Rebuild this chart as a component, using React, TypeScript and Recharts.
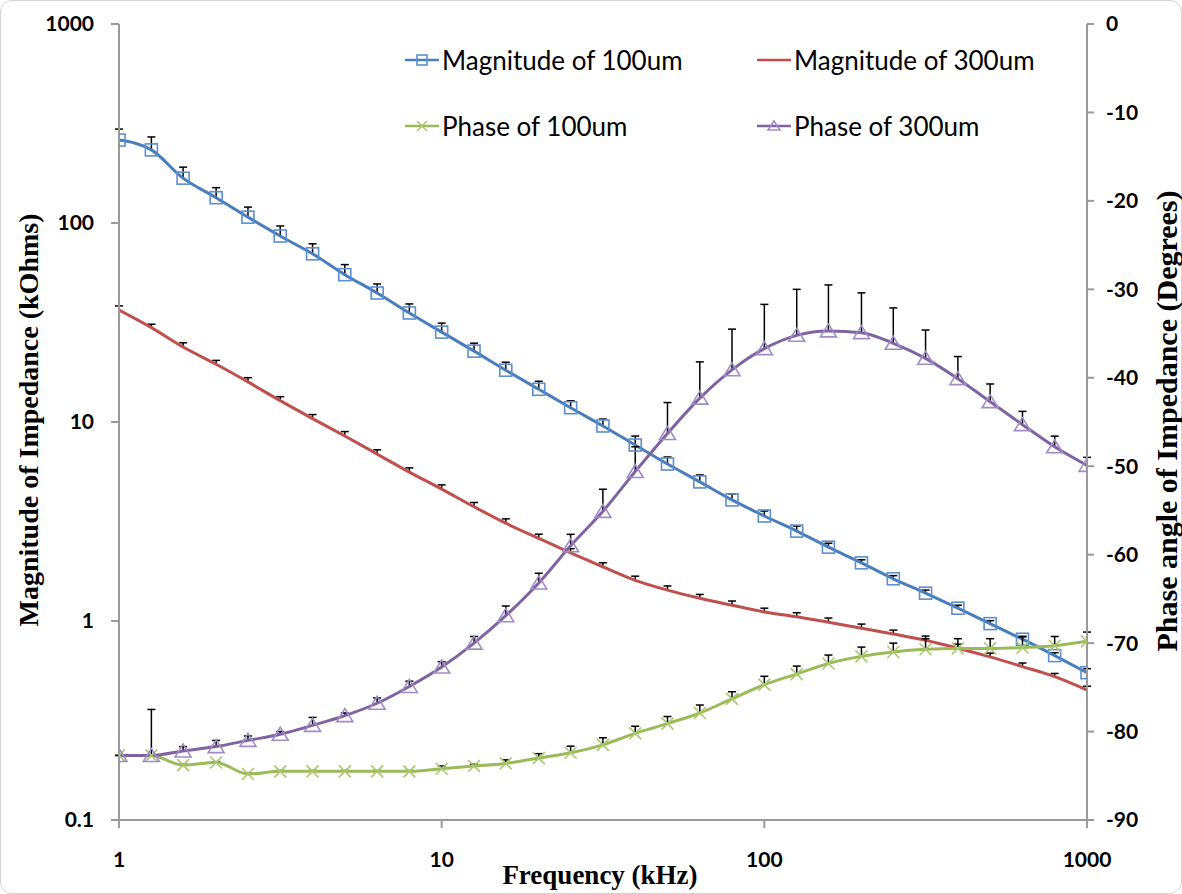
import React from "react"
import {
  LineChart,
  Line,
  XAxis,
  YAxis,
  ErrorBar,
  Legend,
} from "recharts"

// frequency points (kHz), 10 per decade
const FREQ = [
  1, 1.26, 1.58, 2, 2.51, 3.16, 3.98, 5.01, 6.31, 7.94,
  10, 12.6, 15.8, 20, 25.1, 31.6, 39.8, 50.1, 63.1, 79.4,
  100, 126, 158, 200, 251, 316, 398, 501, 631, 794, 1000,
]

// magnitude (kOhms)
const MAG_100 = [
  261, 233, 168, 134, 107, 86, 70, 55, 44.5, 35.3,
  28.3, 22.7, 18.2, 14.6, 11.8, 9.55, 7.66, 6.15, 5.0, 4.06,
  3.37, 2.83, 2.35, 1.96, 1.63, 1.38, 1.16, 0.97, 0.81, 0.67, 0.55,
]
const MAG_100_ERR = [
  35.5, 37.7, 22.8, 16.5, 13.2, 10.6, 8.6, 6.8, 4.9, 3.9,
  3.1, 2.2, 1.77, 1.42, 0.99, 0.8, 0.84, 0.52, 0.42, 0.29,
  0.2, 0.17, 0.11, 0.07, 0.06, 0.05, 0.04, 0.034, 0.028, 0.023, 0.026,
]
const MAG_300 = [
  36.5, 29.8, 23.8, 19.5, 15.9, 12.8, 10.4, 8.5, 6.9, 5.6,
  4.6, 3.75, 3.1, 2.6, 2.2, 1.87, 1.6, 1.43, 1.3, 1.2,
  1.11, 1.05, 0.985, 0.92, 0.86, 0.8, 0.73, 0.66, 0.59, 0.525, 0.45,
]
const MAG_300_ERR = [
  1.8, 1.2, 1.2, 0.9, 0.8, 0.6, 0.5, 0.45, 0.35, 0.28,
  0.23, 0.19, 0.16, 0.13, 0.11, 0.09, 0.08, 0.07, 0.06, 0.06,
  0.05, 0.05, 0.05, 0.045, 0.04, 0.04, 0.035, 0.03, 0.025, 0.02, 0.02,
]

// phase (degrees)
const PH_100 = [
  -82.7, -82.7, -83.8, -83.5, -84.8, -84.5, -84.5, -84.5, -84.5, -84.5,
  -84.2, -83.9, -83.6, -83.0, -82.4, -81.5, -80.2, -79.1, -77.9, -76.3,
  -74.7, -73.5, -72.3, -71.5, -71.0, -70.7, -70.6, -70.6, -70.5, -70.3, -69.8,
]
const PH_100_ERR = [
  0, 0, 0.1, 0.1, 0.1, 0.1, 0.1, 0.1, 0.1, 0.1,
  0.3, 0.2, 0.4, 0.5, 0.75, 0.8, 0.8, 0.8, 0.9, 0.8,
  0.95, 0.9, 0.95, 1.05, 1.0, 1.2, 1.1, 1.1, 1.2, 1.05, 1.05,
]
const PH_300 = [
  -82.7, -82.7, -82.2, -81.7, -81.0, -80.3, -79.3, -78.2, -76.8, -74.9,
  -72.7, -70.0, -66.9, -63.2, -59.0, -55.1, -50.6, -46.3, -42.3, -39.1,
  -36.7, -35.2, -34.7, -34.9, -36.1, -37.8, -40.1, -42.7, -45.3, -47.8, -49.9,
]
const PH_300_ERR = [
  0, 5.2, 0.5, 0.7, 0.5, 0.3, 0.9, 0.3, 0.6, 0.6,
  0.6, 0.75, 1.1, 1.1, 1.3, 2.5, 2.8, 3.5, 4.1, 4.6,
  5.0, 5.2, 5.2, 4.5, 4.0, 3.2, 2.5, 2.0, 1.5, 1.2, 0.9,
]

const X_TICKS = [1, 10, 100, 1000]
const MAG_TICKS = [0.1, 1, 10, 100, 1000]
const PHASE_TICKS = [-90, -80, -70, -60, -50, -40, -30, -20, -10, 0]

const data = FREQ.map((f, i) => ({
  freq: f,
  mag100: MAG_100[i],
  mag100Err: [0, MAG_100_ERR[i]],
  mag300: MAG_300[i],
  mag300Err: [0, MAG_300_ERR[i]],
  ph100: PH_100[i],
  ph100Err: [0, PH_100_ERR[i]],
  ph300: PH_300[i],
  ph300Err: [0, PH_300_ERR[i]],
}))

const BLUE = "#4a7ebb"
const RED = "#c0504d"
const GREEN = "#9bbb59"
const PURPLE = "#8064a2"

const tickStyle = { fill: "#000", fontSize: 21, fontWeight: 700, fontFamily: "Lato" }
const titleFont = "'Liberation Serif', 'Times New Roman', serif"
const axisColor = "#9a9a9a"

function marker(kind: string, cx: number, cy: number, s: number, key?: any) {
  if (kind === "square") {
    return (
      <rect key={key} x={cx - s} y={cy - s} width={s * 2} height={s * 2}
        fill="none" stroke="#5b8fd0" strokeWidth={1.6} />
    )
  }
  if (kind === "x") {
    return (
      <g key={key} stroke="#a9c96f" strokeWidth={1.6}>
        <line x1={cx - s} y1={cy - s} x2={cx + s} y2={cy + s} />
        <line x1={cx - s} y1={cy + s} x2={cx + s} y2={cy - s} />
      </g>
    )
  }
  if (kind === "triangle") {
    return (
      <polygon key={key}
        points={`${cx},${cy - s} ${cx - s - 1},${cy + s - 1} ${cx + s + 1},${cy + s - 1}`}
        fill="none" stroke="#a08cc6" strokeWidth={1.6} />
    )
  }
  return <g key={key} />
}

const MARKERS: Record<string, string> = {
  mag100: "square",
  mag300: "none",
  ph100: "x",
  ph300: "triangle",
}

function renderLegend(props: any) {
  const { payload } = props
  return (
    <div style={{ display: "grid", gridTemplateColumns: "352px 345px" }}>
      {payload.map((entry: any) => (
        <div key={entry.value} style={{ display: "flex", alignItems: "center", height: 66 }}>
          <svg width={34} height={20} style={{ marginRight: 3 }}>
            <line x1={0} y1={10} x2={34} y2={10} stroke={entry.color} strokeWidth={2.5} />
            {marker(MARKERS[entry.dataKey], 17, 10, 5)}
          </svg>
          <span style={{ fontFamily: "Lato", fontSize: 26, color: "#000" }}>{entry.value}</span>
        </div>
      ))}
    </div>
  )
}

export default function App() {
  return (
    <div style={{
      position: "absolute", left: 0, top: 0, width: 1182, height: 894,
      background: "#fff", border: "1px solid #d4d4d4", borderRadius: 12, boxSizing: "border-box",
    }}>
      <style>{`.recharts-errorBar line:nth-of-type(3){display:none}`}</style>
      <div style={{ position: "absolute", left: -1, top: -1 }}>
        <LineChart width={1182} height={894} data={data}
          margin={{ top: 24, right: 40, bottom: 34, left: 40 }}>
          <XAxis dataKey="freq" type="number" scale="log" domain={[1, 1000]} ticks={X_TICKS}
            allowDataOverflow stroke={axisColor} strokeWidth={2} tickSize={8} tickMargin={24}
            tick={tickStyle} height={40}
            label={{
              content: () => (
                <text x={600} y={884} textAnchor="middle" fontFamily={titleFont}
                  fontWeight={700} fontSize={27} fill="#000">Frequency (kHz)</text>
              ),
            }} />
          <YAxis yAxisId="mag" scale="log" domain={[0.1, 1000]} ticks={MAG_TICKS}
            allowDataOverflow stroke={axisColor} strokeWidth={2} tickSize={8} tickMargin={17}
            tick={tickStyle} width={79}
            label={{
              content: () => (
                <text x={38} y={420} transform="rotate(-90, 38, 420)" textAnchor="middle"
                  fontFamily={titleFont} fontWeight={700} fontSize={28} fill="#000">
                  Magnitude of Impedance (kOhms)
                </text>
              ),
            }} />
          <YAxis yAxisId="phase" orientation="right" domain={[-90, 0]} ticks={PHASE_TICKS}
            stroke={axisColor} strokeWidth={2} tickSize={7} tickMargin={12}
            tick={tickStyle} width={55}
            label={{
              content: () => (
                <text x={1177} y={421} transform="rotate(-90, 1177, 421)" textAnchor="middle"
                  fontFamily={titleFont} fontWeight={700} fontSize={30} fill="#000">
                  Phase angle of Impedance (Degrees)
                </text>
              ),
            }} />
          <Legend content={renderLegend} layout="horizontal" verticalAlign="middle"
            wrapperStyle={{ left: 405, top: 27, width: 700 }} />
          <Line yAxisId="mag" dataKey="mag100" name="Magnitude of 100um" type="monotone"
            stroke={BLUE} strokeWidth={3} isAnimationActive={false}
            dot={(p: any) => marker("square", p.cx, p.cy, 6, p.index)}>
            <ErrorBar dataKey="mag100Err" direction="y" width={4} stroke="#000" strokeWidth={1.5} />
          </Line>
          <Line yAxisId="mag" dataKey="mag300" name="Magnitude of 300um" type="monotone"
            stroke={RED} strokeWidth={3} isAnimationActive={false} dot={false}>
            <ErrorBar dataKey="mag300Err" direction="y" width={4} stroke="#000" strokeWidth={1.5} />
          </Line>
          <Line yAxisId="phase" dataKey="ph100" name="Phase of 100um" type="monotone"
            stroke={GREEN} strokeWidth={3} isAnimationActive={false}
            dot={(p: any) => marker("x", p.cx, p.cy, 6, p.index)}>
            <ErrorBar dataKey="ph100Err" direction="y" width={4} stroke="#000" strokeWidth={1.5} />
          </Line>
          <Line yAxisId="phase" dataKey="ph300" name="Phase of 300um" type="monotone"
            stroke={PURPLE} strokeWidth={3} isAnimationActive={false}
            dot={(p: any) => marker("triangle", p.cx, p.cy, 7, p.index)}>
            <ErrorBar dataKey="ph300Err" direction="y" width={4} stroke="#000" strokeWidth={1.5} />
          </Line>
        </LineChart>
      </div>
    </div>
  )
}
